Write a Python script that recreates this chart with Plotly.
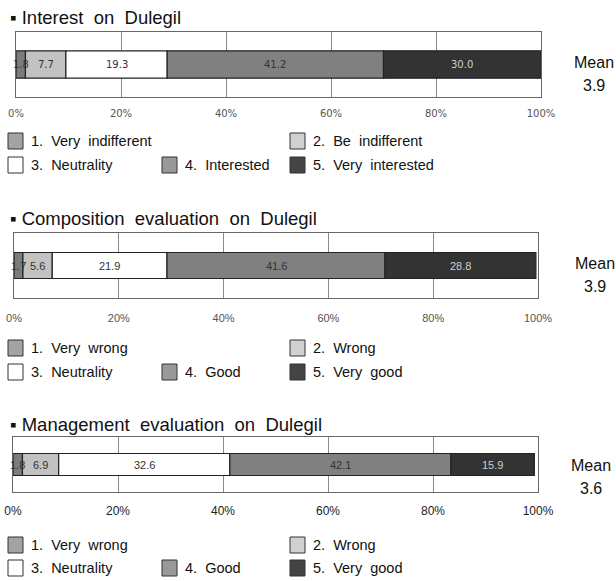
import plotly.graph_objects as go

W, H = 616, 581

# Survey response shares (%) for each question
interest = [1.8, 7.7, 19.3, 41.2, 30.0]
composition = [1.7, 5.6, 21.9, 41.6, 28.8]
management = [1.8, 6.9, 32.6, 42.1, 15.9]

means = ["3.9", "3.9", "3.6"]
titles = [
    "▪ Interest\u00a0 on\u00a0 Dulegil",
    "▪ Composition\u00a0 evaluation\u00a0 on\u00a0 Dulegil",
    "▪ Management\u00a0 evaluation\u00a0 on\u00a0 Dulegil",
]
legend_interest = ["1.\u00a0 Very\u00a0 indifferent", "2.\u00a0 Be\u00a0 indifferent",
                   "3.\u00a0 Neutrality", "4.\u00a0 Interested", "5.\u00a0 Very\u00a0 interested"]
legend_eval = ["1.\u00a0 Very\u00a0 wrong", "2.\u00a0 Wrong",
               "3.\u00a0 Neutrality", "4.\u00a0 Good", "5.\u00a0 Very\u00a0 good"]
tick_vals = [0, 20, 40, 60, 80, 100]
tick_text = ["0%", "20%", "40%", "60%", "80%", "100%"]

bar_colors = ["#7c7c7c", "#c2c2c2", "#ffffff", "#808080", "#333333"]
label_colors = ["#333333", "#333333", "#333333", "#333333", "#cfcfcf"]
legend_colors = ["#a3a3a3", "#d0d0d0", "#ffffff", "#999999", "#444444"]


def px(x):
    return x / W


def py(y):
    return 1 - y / H


# per-panel layout: plot box (px), bar width fraction, fonts
panels = [
    dict(data=interest, box=(16, 541, 32, 97), bw=0.42, title_y=17,
         tick_font=dict(family="DejaVu Sans", size=10, color="#555555"), standoff=7,
         lab_font=dict(family="DejaVu Sans", size=10), mean_xy=(594, 62, 85),
         legend=legend_interest, leg_y=(141, 165)),
    dict(data=composition, box=(14, 538, 233, 298), bw=0.40, title_y=218,
         tick_font=dict(family="Liberation Sans", size=11, color="#555555"), standoff=10,
         lab_font=dict(family="Liberation Sans", size=11), mean_xy=(595, 263, 287),
         legend=legend_eval, leg_y=(348, 372)),
    dict(data=management, box=(13, 538, 437, 492), bw=0.40, title_y=424,
         tick_font=dict(family="Liberation Sans", size=12, color="#222222"), standoff=8,
         lab_font=dict(family="Liberation Sans", size=11), mean_xy=(591, 465, 488),
         legend=legend_eval, leg_y=(545, 568)),
]

fig = go.Figure()
annotations = []
shapes = []

for i, p in enumerate(panels):
    n = "" if i == 0 else str(i + 1)
    xa, ya = "x" + n, "y" + n
    x0, x1, y0, y1 = p["box"]
    start = 0.0
    for k, v in enumerate(p["data"]):
        fig.add_trace(go.Bar(
            x=[v], y=[0], base=[start], orientation="h", width=p["bw"],
            marker=dict(color=bar_colors[k], line=dict(color="#222222", width=1.2)),
            xaxis=xa, yaxis=ya, showlegend=False, hoverinfo="skip",
        ))
        annotations.append(dict(
            x=start + v / 2, y=0, xref=xa, yref=ya, text=f"{v:.1f}", showarrow=False,
            font=dict(color=label_colors[k], **p["lab_font"]),
        ))
        start += v

    fig.layout["xaxis" + n] = dict(
        domain=[px(x0), px(x1)], range=[0, 100], anchor=ya,
        tickvals=tick_vals, ticktext=tick_text, ticks="", showgrid=True,
        gridcolor="#8a8a8a", gridwidth=1, zeroline=False, automargin=False,
        showline=True, mirror=True, linecolor="#666666", linewidth=1,
        tickfont=p["tick_font"], ticklabelstandoff=p["standoff"], fixedrange=True,
    )
    fig.layout["yaxis" + n] = dict(
        domain=[py(y1), py(y0)], range=[-0.5, 0.5], anchor=xa, automargin=False,
        showticklabels=False, showgrid=False, zeroline=False,
        showline=True, mirror=True, linecolor="#666666", linewidth=1, fixedrange=True,
    )

    # section title
    annotations.append(dict(
        x=px(8), y=py(p["title_y"]), xref="paper", yref="paper", xanchor="left",
        yanchor="middle", text=titles[i], showarrow=False,
        font=dict(family="Liberation Sans", size=18.5, color="#111111"),
    ))
    # mean
    mx, my1, my2 = p["mean_xy"]
    for txt, yy in (("Mean", my1), (means[i], my2)):
        annotations.append(dict(
            x=px(mx), y=py(yy), xref="paper", yref="paper", xanchor="center",
            yanchor="middle", text=txt, showarrow=False,
            font=dict(family="Liberation Sans", size=16, color="#111111"),
        ))

    # legend: two rows of swatches
    ra, rb = p["leg_y"]
    slots = [(8, ra), (290, ra), (8, rb), (162, rb), (290, rb)]
    for k, (sx, sy) in enumerate(slots):
        shapes.append(dict(
            type="rect", xref="paper", yref="paper",
            x0=px(sx), x1=px(sx + 15), y0=py(sy + 8), y1=py(sy - 8),
            fillcolor=legend_colors[k], line=dict(color="#333333", width=1),
        ))
        annotations.append(dict(
            x=px(sx + 21), y=py(sy), xref="paper", yref="paper", xanchor="left",
            yanchor="middle", text=p["legend"][k], showarrow=False,
            font=dict(family="Liberation Sans", size=14.5, color="#111111"),
        ))

fig.update_layout(
    width=W, height=H, autosize=False, margin=dict(l=0, r=0, t=0, b=0, pad=0),
    paper_bgcolor="white", plot_bgcolor="white",
    barmode="overlay", showlegend=False,
    annotations=annotations, shapes=shapes,
)

fig.write_html(
    "out.html",
    config={"displayModeBar": False, "responsive": False},
    post_script="document.body.style.margin='0';",
)
